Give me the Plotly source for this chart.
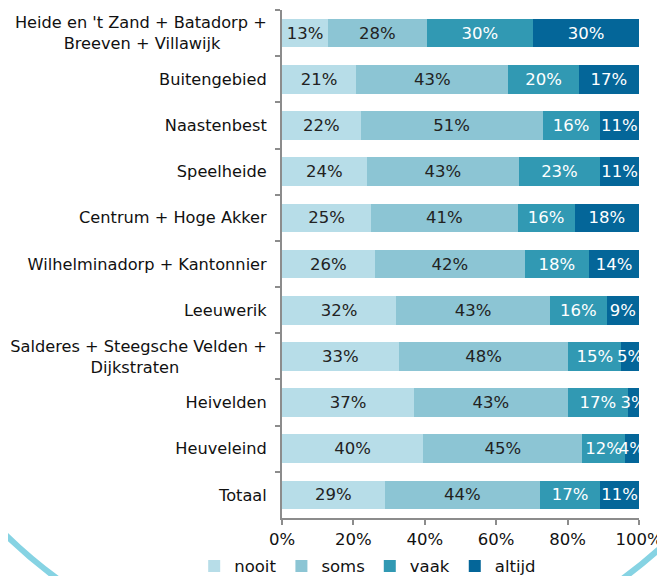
import plotly.graph_objects as go

categories = [
    "Heide en 't Zand + Batadorp +<br>Breeven + Villawijk",
    "Buitengebied",
    "Naastenbest",
    "Speelheide",
    "Centrum + Hoge Akker",
    "Wilhelminadorp + Kantonnier",
    "Leeuwerik",
    "Salderes + Steegsche Velden +<br>Dijkstraten",
    "Heivelden",
    "Heuveleind",
    "Totaal",
]
nooit = [13, 21, 22, 24, 25, 26, 32, 33, 37, 40, 29]
soms = [28, 43, 51, 43, 41, 42, 43, 48, 43, 45, 44]
vaak = [30, 20, 16, 23, 16, 18, 16, 15, 17, 12, 17]
altijd = [30, 17, 11, 11, 18, 14, 9, 5, 3, 4, 11]
tick_vals = [0, 20, 40, 60, 80, 100]
tick_text = ["0%", "20%", "40%", "60%", "80%", "100%"]

series = [
    ("nooit", nooit, "#b7dde8", "#222222"),
    ("soms", soms, "#8cc5d4", "#222222"),
    ("vaak", vaak, "#3199b3", "#ffffff"),
    ("altijd", altijd, "#046699", "#ffffff"),
]

FS = 16.5
YFS = 16.2

# center the second line of multi-line labels by padding with nbsp
def pad(label):
    if "<br>" in label:
        a, b = label.split("<br>")
        n = int(round((len(a) - len(b)) * 0.92))
        return a + "<br>" + b + "\u00a0" * n
    return label

labels = [pad(c) for c in categories]

fig = go.Figure()
for name, vals, color, tcolor in series:
    fig.add_trace(go.Bar(
        y=labels, x=vals, name=name, orientation="h",
        marker=dict(color=color, line=dict(width=0)),
        text=[f"{v}%" for v in vals], textposition="inside",
        insidetextanchor="middle", textangle=0,
        textfont=dict(color=tcolor, size=FS, family="DejaVu Sans"),
        constraintext="none", cliponaxis=False,
    ))

# page body has an 8px margin: figure sized to fill the rest of the window
fig.update_layout(
    barmode="stack", barnorm="percent", bargap=0.38,
    width=657, height=568,
    margin=dict(l=274, r=26, t=2, b=58, autoexpand=False),
    paper_bgcolor="white", plot_bgcolor="white",
    font=dict(family="DejaVu Sans", size=FS, color="#111111"),
    uniformtext=dict(minsize=FS, mode="show"),
    showlegend=True,
    legend=dict(orientation="h", x=0.24, xanchor="center", y=-0.095, yanchor="middle",
                font=dict(size=FS), itemwidth=30, traceorder="normal"),
    xaxis=dict(range=[0, 100], tickvals=tick_vals, ticktext=tick_text, automargin=False,
               showgrid=False, zeroline=False, showline=True, linecolor="#8c8c8c", linewidth=2,
               ticks="outside", ticklen=5, tickcolor="#8c8c8c", tickwidth=2,
               tickfont=dict(size=FS)),
    yaxis=dict(autorange="reversed", showgrid=False, showline=True, linecolor="#8c8c8c",
               linewidth=2, ticks="outside", ticklen=5, tickcolor="#8c8c8c", tickwidth=2,
               tickson="boundaries", tickfont=dict(size=YFS), automargin=False,
               ticklabelstandoff=10),
    shapes=[dict(type="circle", xref="paper", yref="paper",
                 x0=-1.179, x1=1.504, y0=-0.301, y1=1.585,
                 line=dict(color="#86d3e3", width=6), layer="below")],
)

fig.write_html("out.html")
